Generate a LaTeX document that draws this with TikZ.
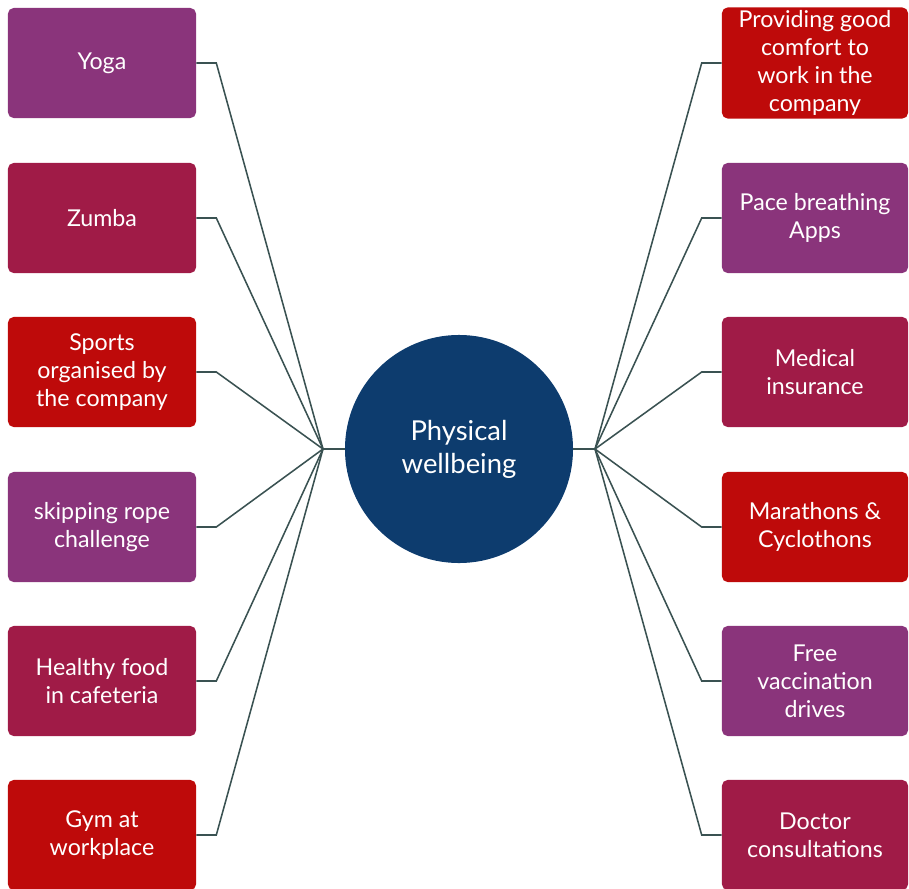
\documentclass[tikz,border=0pt]{standalone}
\usepackage{fontspec}
\setmainfont{Lato}
\usepackage{tikz}
\definecolor{wPurple}{HTML}{8A347B}
\definecolor{wCrimson}{HTML}{A01B47}
\definecolor{wRed}{HTML}{BE0A0A}
\definecolor{wNavy}{HTML}{0D3C6E}
\definecolor{wLine}{HTML}{3A5252}
\tikzset{
    wbox/.style={rounded corners=4pt, minimum width=4.7cm, minimum height=2.75cm, align=center, text=white, inner sep=2pt, font=\fontsize{16.5}{20}\selectfont},
    whub/.style={circle, fill=wNavy, minimum size=5.7cm, align=center, text=white, font=\fontsize{19.5}{23.5}\selectfont},
    wline/.style={draw=wLine, line width=1.1pt}
}

\begin{document}
\begin{tikzpicture}[x=0.025cm, y=-0.025cm]
            \useasboundingbox (0,0) rectangle (909,889);
            \node[whub] (hub) at (459,449) {Physical\\wellbeing};
            \coordinate (lhub) at (323,449);
            \coordinate (rhub) at (595,449);
            \draw[wline] (lhub) -- (hub.west);
            \draw[wline] (rhub) -- (hub.east);
            % left column
            \foreach \n/\y/\c/\t in {yoga/63/wPurple/Yoga, zumba/218/wCrimson/Zumba, sports/372/wRed/{Sports\\organised by\\the company}, skip/527/wPurple/{skipping rope\\challenge}, food/681/wCrimson/{Healthy food\\in cafeteria}, gym/835/wRed/{Gym at\\workplace}}{
                \node[wbox, fill=\c] (\n) at (102,\y) {\t};
                \draw[wline] (\n.east) -- ++(20,0) -- (lhub);
            }
            % right column
            \foreach \n/\y/\c/\t in {comfort/63/wRed/{Providing good\\comfort to\\work in the\\company}, pace/218/wPurple/{Pace breathing\\Apps}, insur/372/wCrimson/{Medical\\insurance}, marathon/527/wRed/{Marathons \&\\Cyclothons}, vacc/681/wPurple/{Free\\vaccination\\drives}, doctor/835/wCrimson/{Doctor\\consultations}}{
                \node[wbox, fill=\c, minimum width=4.65cm] (\n) at (815,\y) {\t};
                \draw[wline] (\n.west) -- ++(-20,0) -- (rhub);
            }
        \end{tikzpicture}
\end{document}
